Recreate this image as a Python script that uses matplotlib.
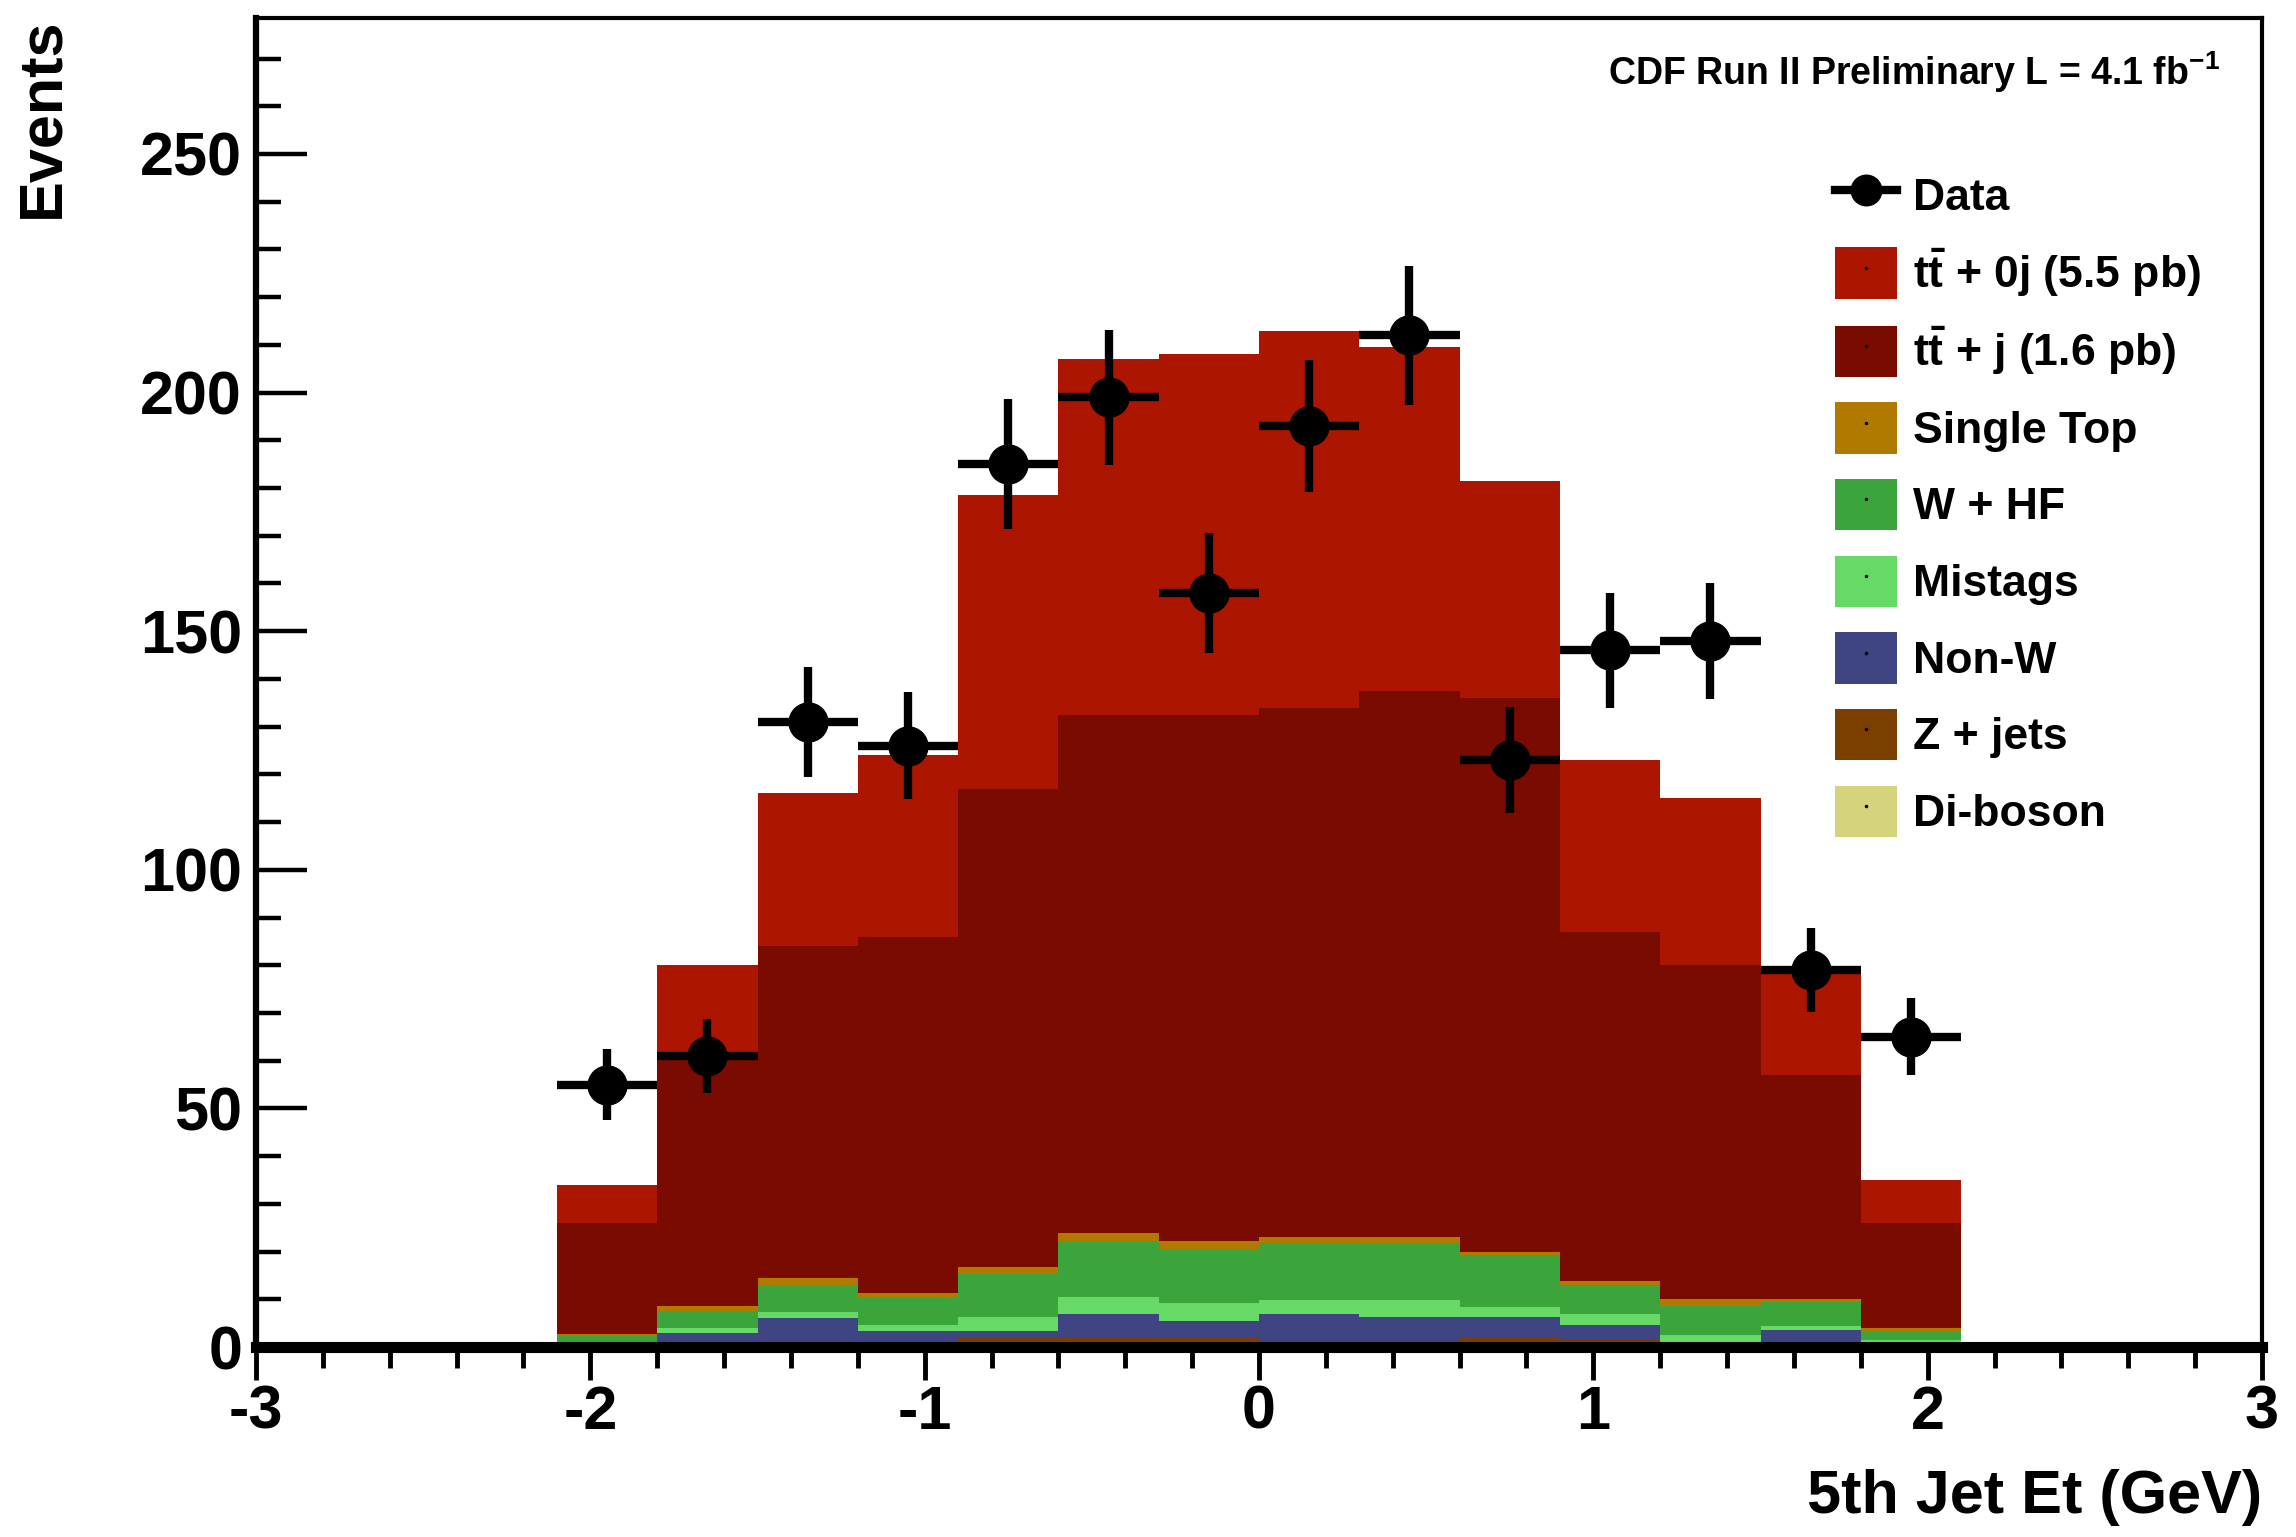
import numpy as np
import matplotlib.pyplot as plt
from matplotlib.patches import Patch
from matplotlib.lines import Line2D
from matplotlib.ticker import MultipleLocator

plt.rcParams['font.family'] = ['Liberation Sans', 'DejaVu Sans']
plt.rcParams['font.weight'] = 'bold'
plt.rcParams['axes.unicode_minus'] = False
plt.rcParams['mathtext.fontset'] = 'custom'
plt.rcParams['mathtext.rm'] = 'Liberation Sans:bold'
plt.rcParams['mathtext.bf'] = 'Liberation Sans:bold'
plt.rcParams['mathtext.it'] = 'Liberation Sans:bold'

# bin centres (bin width 0.3)
bin_centers = [-1.95, -1.65, -1.35, -1.05, -0.75, -0.45, -0.15,
               0.15, 0.45, 0.75, 1.05, 1.35, 1.65, 1.95]
bin_width = 0.3

# data points and their errors
data = [55, 61, 131, 126, 185, 199, 158, 193, 212, 123, 146, 148, 79, 65]
data_err = [7.4, 7.8, 11.5, 11.2, 13.6, 14.1, 12.6, 13.9, 14.6, 11.1, 12.1, 12.2, 8.9, 8.1]

# stacked backgrounds / signal (per component, bottom to top)
diboson = [0.05, 0.1, 0.1, 0.3, 0.5, 1.1, 1.1, 0.3, 0.3, 0.8, 0.4, 0.1, 0.1, 0.05]
zjets = [0.05, 1.0, 0.9, 0.3, 1.5, 0.9, 1.1, 0.9, 0.9, 1.0, 1.1, 0.3, 0.9, 0.15]
non_w = [0.1, 1.8, 5.0, 2.7, 1.3, 4.9, 3.3, 5.7, 5.0, 4.4, 3.2, 0.7, 2.6, 0.5]
mistags = [0.6, 1.0, 1.3, 1.4, 2.9, 3.6, 3.8, 2.9, 3.6, 2.2, 2.2, 1.4, 0.8, 0.8]
w_hf = [1.8, 3.7, 5.8, 5.5, 9.1, 11.7, 11.2, 12.0, 11.7, 10.9, 6.2, 6.0, 5.1, 1.8]
single_top = [0.2, 0.9, 1.4, 1.2, 1.4, 1.6, 1.7, 1.3, 1.6, 0.7, 0.7, 1.5, 0.5, 0.6]
tt_j = [23.2, 52.5, 69.5, 74.6, 100.3, 108.7, 110.3, 110.9, 114.4, 116.0, 73.2, 70.0, 47.0, 22.1]
tt_0j = [8, 19, 32, 38, 61.5, 74.5, 75.5, 79, 72, 45.5, 36, 35, 22, 9]

stack = [
    ('Di-boson', diboson, '#D5D37C'),
    ('Z + jets', zjets, '#7B3F00'),
    ('Non-W', non_w, '#3F4482'),
    ('Mistags', mistags, '#66D966'),
    ('W + HF', w_hf, '#3BA53B'),
    ('Single Top', single_top, '#B07A00'),
    (r'$\mathbf{t\bar{t}}$ + j (1.6 pb)', tt_j, '#7A0B00'),
    (r'$\mathbf{t\bar{t}}$ + 0j (5.5 pb)', tt_0j, '#AC1600'),
]

centers = np.array(bin_centers)
edges = np.append(centers - bin_width / 2, centers[-1] + bin_width / 2)

fig = plt.figure(figsize=(22.96, 15.37), dpi=100)
ax = fig.add_axes([0.1115, 0.1236, 0.8737, 0.8647])

# stacked histogram, one filled step polygon per component
base = np.zeros(len(centers))
for name, vals, col in stack:
    top = base + np.array(vals)
    ax.stairs(top, edges, baseline=base.copy(), fill=True, color=col, lw=0)
    base = top

ax.errorbar(centers, data, xerr=bin_width / 2, yerr=data_err, fmt='o', color='k',
            ms=28, elinewidth=6, capsize=0, zorder=5)

ax.set_xlim(-3, 3)
ax.set_ylim(0, 278.5)

ax.xaxis.set_major_locator(MultipleLocator(1))
ax.xaxis.set_minor_locator(MultipleLocator(0.2))
ax.yaxis.set_major_locator(MultipleLocator(50))
ax.yaxis.set_minor_locator(MultipleLocator(10))
ax.tick_params(axis='x', which='major', direction='out', length=24, width=3.5, pad=3, labelsize=44)
ax.tick_params(axis='x', which='minor', direction='out', length=15, width=3.5)
ax.tick_params(axis='y', which='major', direction='in', length=37, width=3.2, pad=10, labelsize=44)
ax.tick_params(axis='y', which='minor', direction='in', length=18, width=3.2)

ax.spines['left'].set_linewidth(4.5)
ax.spines['bottom'].set_linewidth(8)
ax.spines['top'].set_linewidth(3)
ax.spines['right'].set_linewidth(3)

ax.set_ylabel('Events', fontsize=44, fontweight='bold', loc='top')
ax.yaxis.set_label_coords(-0.092, 1.0)
ax.set_xlabel('5th Jet Et (GeV)', fontsize=44, fontweight='bold', loc='right')
ax.xaxis.set_label_coords(1.0, -0.092)

fig.text(0.967, 0.9447, r'CDF Run II Preliminary L = 4.1 fb$^{\mathbf{-1}}$',
         ha='right', va='baseline', fontsize=27, fontweight='bold')

# legend (top to bottom: data then stack in reverse)
handles = [Line2D([], [], color='k', marker='o', ms=22, lw=6)]
labels = ['Data']
for name, vals, col in stack[::-1]:
    handles.append((Patch(fc=col, ec='none'),
                    Line2D([], [], marker='.', ms=3, color='k', ls='')))
    labels.append(name)
ax.legend(handles, labels, loc='upper left', bbox_to_anchor=(0.787, 0.886),
          frameon=False, fontsize=32, handlelength=1.4, handleheight=1.4,
          labelspacing=0.57, handletextpad=0.35, borderpad=0, borderaxespad=0)

fig.savefig('out.png', dpi=100)
